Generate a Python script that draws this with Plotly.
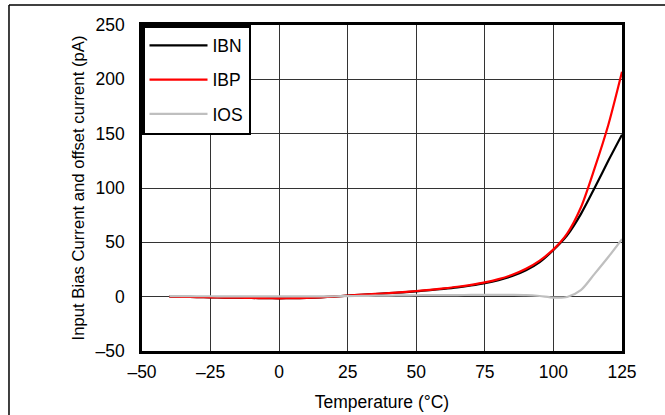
import plotly.graph_objects as go

temp = [-40, -35, -30, -25, -20, -15, -10, -5, 0, 5, 10, 15, 20, 25, 30, 35, 40, 45, 50,
        55, 60, 65, 70, 75, 80, 85, 90, 95, 100, 105, 110, 115, 120, 125]
ibn = [0.0, -0.2, -0.4, -0.6, -0.8, -1.0, -1.2, -1.4, -1.5, -1.4, -1.1, -0.6, 0.1, 1.0, 1.7, 2.4,
       3.2, 4.0, 4.9, 6.0, 7.2, 8.6, 10.3, 12.4, 15.2, 19.0, 24.3, 31.8, 43.0, 56.5, 76.0, 100.0,
       125.0, 149.0]
ibp = [0.0, -0.2, -0.4, -0.6, -0.8, -1.0, -1.2, -1.4, -1.5, -1.4, -1.1, -0.6, 0.1, 1.0, 1.8, 2.5,
       3.3, 4.2, 5.2, 6.3, 7.6, 9.1, 10.9, 13.1, 16.1, 20.2, 25.7, 33.2, 43.5, 58.0, 82.0, 118.0,
       158.0, 207.0]
ios = [0.5, 0.5, 0.4, 0.4, 0.3, 0.3, 0.2, 0.2, 0.2, 0.2, 0.3, 0.3, 0.4, 0.5, 0.7, 0.9,
       1.0, 1.2, 1.3, 1.4, 1.5, 1.5, 1.6, 1.6, 1.7, 1.7, 1.5, 0.6, -0.8, -0.3, 6.0, 21.0,
       36.5, 53.0]

x_ticks = [-50, -25, 0, 25, 50, 75, 100, 125]
y_ticks = [-50, 0, 50, 100, 150, 200, 250]

font_family = "Liberation Sans, Arial, sans-serif"
fs = 17.5

fig = go.Figure()
for name, vals, col, grp in [("IBN", ibn, "#000000", "a"),
                             ("IBP", ibp, "#ff0000", "b"),
                             ("IOS", ios, "#bfbfbf", "c")]:
    fig.add_trace(go.Scatter(x=temp, y=vals, mode="lines", name=name, legendgroup=grp,
                             line=dict(color=col, width=2.2, shape="spline", smoothing=0.8)))

axis_common = dict(showgrid=True, gridcolor="#333333", gridwidth=1, zeroline=False,
                   showline=True, linecolor="#000000", linewidth=2.5, mirror=True,
                   ticks="", automargin=False,
                   tickfont=dict(size=fs, color="#000000", family=font_family))

fig.update_xaxes(range=[-50, 125], tickvals=x_ticks,
                 ticktext=[f"{v}".replace("-", "\u2013") for v in x_ticks],
                 title_text="Temperature (°C)", title_standoff=15, ticklabelstandoff=3,
                 title_font=dict(size=fs, color="#000000", family=font_family), **axis_common)
fig.update_yaxes(range=[-50, 250], tickvals=y_ticks,
                 ticktext=[f"{v}".replace("-", "\u2013") for v in y_ticks],
                 title_text="Input Bias Current and offset current (pA)", title_standoff=7,
                 ticklabelstandoff=11,
                 title_font=dict(size=16.7, color="#000000", family=font_family), **axis_common)

fig.update_layout(
    width=665, height=415,
    margin=dict(l=142, r=43, t=25, b=64),
    paper_bgcolor="white", plot_bgcolor="white",
    font=dict(family=font_family, color="#000000"),
    showlegend=True,
    legend=dict(x=0, y=1, xanchor="left", yanchor="top", bgcolor="white",
                bordercolor="#000000", borderwidth=2.5, tracegroupgap=8.5,
                itemwidth=58, entrywidth=110,
                font=dict(size=fs, family=font_family, color="#000000")),
    shapes=[
        dict(type="line", xref="paper", yref="paper", x0=-0.2771, x1=1.2, y0=1.0613, y1=1.0613,
             line=dict(color="#000000", width=1.5)),
        dict(type="line", xref="paper", yref="paper", x0=-0.2771, x1=-0.2771, y0=1.0613, y1=-0.3,
             line=dict(color="#000000", width=1.5)),
    ],
)

fig.write_html("out.html", config={"displayModeBar": False},
               post_script="document.body.style.margin='0';")
